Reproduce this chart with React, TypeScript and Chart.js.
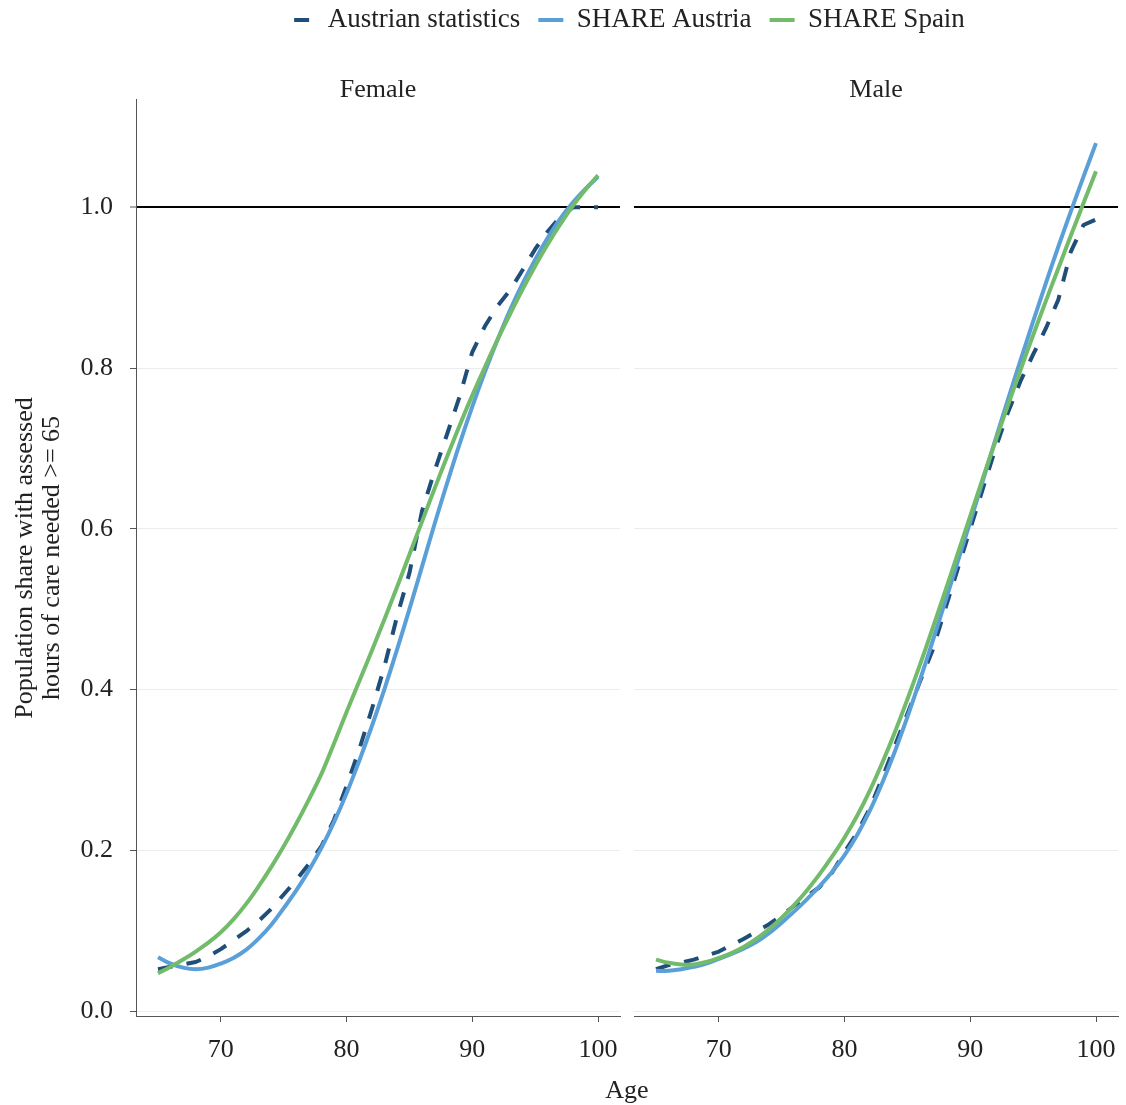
import React, { useEffect, useRef } from "react";
import { Chart, registerables } from "chart.js";

Chart.register(...registerables);

// ---------------- data ----------------
const ages = [
  65, 66, 67, 68, 69, 70, 71, 72, 73, 74, 75, 76, 77, 78, 79, 80, 81, 82,
  83, 84, 85, 86, 87, 88, 89, 90, 91, 92, 93, 94, 95, 96, 97, 98, 99, 100,
];

const seriesLabels = ["Austrian statistics", "SHARE Austria", "SHARE Spain"];
const panelLabels = ["Female", "Male"];

const femaleStats = [
  0.052, 0.055, 0.058, 0.061, 0.068, 0.077, 0.088, 0.099, 0.112, 0.127, 0.145,
  0.163, 0.183, 0.205, 0.238, 0.28, 0.325, 0.375, 0.428, 0.49, 0.545, 0.622,
  0.672, 0.718, 0.765, 0.82, 0.852, 0.877, 0.897, 0.922, 0.948, 0.97, 0.988,
  1.0, 1.0, 1.0,
];
const femaleAustria = [
  0.067, 0.059, 0.054, 0.052, 0.054, 0.059, 0.066, 0.076, 0.09, 0.107, 0.128,
  0.15, 0.175, 0.203, 0.235, 0.271, 0.311, 0.354, 0.4, 0.449, 0.5, 0.553,
  0.606, 0.657, 0.706, 0.752, 0.795, 0.835, 0.872, 0.905, 0.935, 0.962, 0.986,
  1.006, 1.023, 1.038,
];
const femaleSpain = [
  0.047, 0.055, 0.064, 0.074, 0.085, 0.098, 0.114, 0.133, 0.155, 0.179, 0.205,
  0.233, 0.263, 0.295, 0.333, 0.372, 0.41, 0.448, 0.487, 0.527, 0.568, 0.609,
  0.65, 0.69, 0.729, 0.766, 0.801, 0.835, 0.867, 0.898, 0.927, 0.954, 0.979,
  1.002, 1.022, 1.04,
];

const maleStats = [
  0.052, 0.057, 0.06, 0.064, 0.069, 0.074, 0.082, 0.09, 0.099, 0.108, 0.119,
  0.131, 0.143, 0.154, 0.172, 0.198, 0.222, 0.252, 0.29, 0.33, 0.37, 0.41,
  0.449, 0.5, 0.55, 0.6, 0.65, 0.7, 0.745, 0.784, 0.817, 0.849, 0.885, 0.945,
  0.978, 0.985,
];
const maleAustria = [
  0.05, 0.05, 0.052, 0.055, 0.059, 0.065, 0.071, 0.078, 0.086, 0.097, 0.11,
  0.124, 0.139, 0.155, 0.173, 0.194, 0.219, 0.249, 0.284, 0.323, 0.366, 0.412,
  0.46, 0.509, 0.559, 0.609, 0.66, 0.711, 0.761, 0.81, 0.858, 0.905, 0.951,
  0.995, 1.038, 1.08,
];
const maleSpain = [
  0.064, 0.06, 0.058, 0.058, 0.061, 0.066, 0.072, 0.08, 0.09, 0.102, 0.116,
  0.132, 0.15, 0.17, 0.192, 0.216, 0.243, 0.274, 0.309, 0.347, 0.388, 0.431,
  0.476, 0.522, 0.569, 0.616, 0.663, 0.709, 0.754, 0.798, 0.841, 0.883, 0.924,
  0.965, 1.005, 1.045,
];

const xTickValues = [70, 80, 90, 100];
const yTickValues = [0, 0.2, 0.4, 0.6, 0.8, 1.0];
const referenceLineValue = 1.0;

const xTitle = "Age";
const yTitleLines = ["Population share with assessed", "hours of care needed >= 65"];

// ---------------- style ----------------
const FONT = "'Liberation Serif', 'Times New Roman', serif";
const TEXT = "#222222";
const AXIS = "#555555";
const GRID = "#ececec";
const COL_STATS = "#1f4e79";
const COL_AUSTRIA = "#5b9fd8";
const COL_SPAIN = "#72bb6b";
const DASH = [15, 14];

const X_MIN = 63.25;
const X_MAX = 101.75;
const Y_MIN = -0.0062;
const Y_MAX = 1.1336;
const GAP_WEIGHT = 14 / 484;

function makeDataset(label: string, xAxisID: string, values: number[], color: string, dashed: boolean) {
  return {
    label,
    xAxisID,
    yAxisID: "y",
    data: ages.map((a, i) => ({ x: a, y: values[i] })),
    borderColor: color,
    backgroundColor: color,
    borderWidth: 4,
    borderDash: dashed ? DASH : [],
    borderCapStyle: "butt",
    borderJoinStyle: "round",
    pointRadius: 0,
    pointHoverRadius: 0,
    pointHitRadius: 0,
    pointStyle: "line",
    tension: dashed ? 0 : 0.4,
    fill: false,
  };
}

function setTicks(values: number[]) {
  return (scale: any) => {
    scale.ticks = values.map((v) => ({ value: v }));
  };
}

function bottomAxis(weight: number, stackWeight: number, visible: boolean) {
  return {
    type: "linear",
    position: "bottom",
    stack: "panels",
    stackWeight,
    weight,
    min: X_MIN,
    max: X_MAX,
    afterBuildTicks: setTicks(xTickValues),
    ticks: {
      display: visible,
      autoSkip: false,
      maxRotation: 0,
      minRotation: 0,
      padding: 13,
      color: TEXT,
      font: { family: FONT, size: 26, lineHeight: 1.2 },
    },
    grid: {
      display: visible,
      drawOnChartArea: false,
      drawTicks: true,
      tickLength: 6,
      tickColor: AXIS,
      tickWidth: 1,
    },
    border: { display: visible, color: AXIS, width: 1 },
    afterFit: (s: any) => {
      s.height = 52;
      s.paddingLeft = 0;
      s.paddingRight = 0;
    },
  };
}

function stripAxis(weight: number, stackWeight: number, text: string) {
  return {
    type: "linear",
    position: "top",
    stack: "strips",
    stackWeight,
    weight,
    min: 0,
    max: 1,
    ticks: { display: false },
    grid: { display: false, drawTicks: false },
    border: { display: false },
    title: {
      display: text !== "",
      text,
      color: TEXT,
      font: { family: FONT, size: 26, lineHeight: 1 },
      padding: { top: 33.5, bottom: 0 },
    },
    afterFit: (s: any) => {
      s.height = 56.5;
      s.paddingLeft = 0;
      s.paddingRight = 0;
    },
  };
}

const panelGapPlugin = {
  id: "panelGap",
  afterDatasetsDraw(chart: any) {
    const g = chart.scales.xGap;
    const a = chart.chartArea;
    if (!g) return;
    const ctx = chart.ctx;
    ctx.save();
    ctx.fillStyle = "#ffffff";
    ctx.fillRect(g.left, a.top - 1, g.right - g.left, a.bottom - a.top + 1);
    ctx.restore();
  },
};

export default function App() {
  const canvasRef = useRef<HTMLCanvasElement | null>(null);

  useEffect(() => {
    if (!canvasRef.current) return;
    const datasets = [
      makeDataset(seriesLabels[2], "xF", femaleSpain, COL_SPAIN, false),
      makeDataset(seriesLabels[1], "xF", femaleAustria, COL_AUSTRIA, false),
      makeDataset(seriesLabels[0], "xF", femaleStats, COL_STATS, true),
      makeDataset(seriesLabels[2], "xM", maleSpain, COL_SPAIN, false),
      makeDataset(seriesLabels[1], "xM", maleAustria, COL_AUSTRIA, false),
      makeDataset(seriesLabels[0], "xM", maleStats, COL_STATS, true),
    ];

    const chart = new Chart(canvasRef.current, {
      type: "line",
      data: { datasets } as any,
      plugins: [panelGapPlugin],
      options: {
        animation: false,
        responsive: false,
        maintainAspectRatio: false,
        devicePixelRatio: 1,
        events: [],
        layout: { padding: { top: -11.5, left: 0, right: 8, bottom: 0 } },
        plugins: {
          tooltip: { enabled: false },
          legend: {
            display: true,
            position: "top",
            fullSize: false,
            reverse: true,
            labels: {
              usePointStyle: true,
              pointStyleWidth: 25,
              padding: 18,
              color: TEXT,
              font: { family: FONT, size: 27 },
              filter: (item: any) => item.datasetIndex < 3,
              generateLabels: (c: any) => {
                const base = (Chart as any).defaults.plugins.legend.labels.generateLabels(c);
                return base.map((item: any) => {
                  const ds = c.data.datasets[item.datasetIndex];
                  const dashed = ds.borderDash && ds.borderDash.length > 0;
                  return {
                    ...item,
                    lineDash: ds.borderDash,
                    lineDashOffset: dashed ? 24 : 0,
                    lineWidth: 4,
                    strokeStyle: ds.borderColor,
                    lineCap: "butt",
                  };
                });
              },
            },
          },
          title: {
            display: true,
            text: xTitle,
            position: "bottom",
            fullSize: false,
            color: TEXT,
            font: { family: FONT, size: 26, weight: "normal", lineHeight: 1 },
            padding: { top: 10, bottom: 1 },
          },
        },
        scales: {
          y: {
            type: "linear",
            position: "left",
            min: Y_MIN,
            max: Y_MAX,
            afterBuildTicks: setTicks(yTickValues),
            ticks: {
              callback: (v: any) => Number(v).toFixed(1),
              padding: 17,
              color: TEXT,
              font: { family: FONT, size: 26 },
            },
            grid: {
              color: (ctx: any) =>
                ctx.tick && Math.abs(ctx.tick.value - referenceLineValue) < 1e-9 ? "#000000" : GRID,
              lineWidth: (ctx: any) =>
                ctx.tick && Math.abs(ctx.tick.value - referenceLineValue) < 1e-9 ? 2 : 1,
              drawTicks: true,
              tickLength: 6,
              tickColor: AXIS,
              tickWidth: 1,
            },
            border: { display: true, color: AXIS, width: 1 },
            title: {
              display: true,
              text: yTitleLines,
              color: TEXT,
              font: { family: FONT, size: 26, lineHeight: 1.04 },
              padding: { top: 11.5, bottom: 0 },
            },
            afterFit: (s: any) => {
              s.width = 136;
              s.paddingTop = 0;
              s.paddingBottom = 0;
            },
          },
          xF: bottomAxis(0, 1, true),
          xGap: bottomAxis(1, GAP_WEIGHT, false),
          xM: bottomAxis(2, 1, true),
          sF: stripAxis(2, 1, panelLabels[0]),
          sGap: stripAxis(1, GAP_WEIGHT, ""),
          sM: stripAxis(0, 1, panelLabels[1]),
        } as any,
      } as any,
    });

    return () => chart.destroy();
  }, []);

  return (
    <div
      style={{
        position: "absolute",
        left: 0,
        top: 0,
        width: 1126,
        height: 1105,
        background: "#ffffff",
      }}
    >
      <canvas ref={canvasRef} width={1126} height={1105} style={{ display: "block" }} />
    </div>
  );
}
